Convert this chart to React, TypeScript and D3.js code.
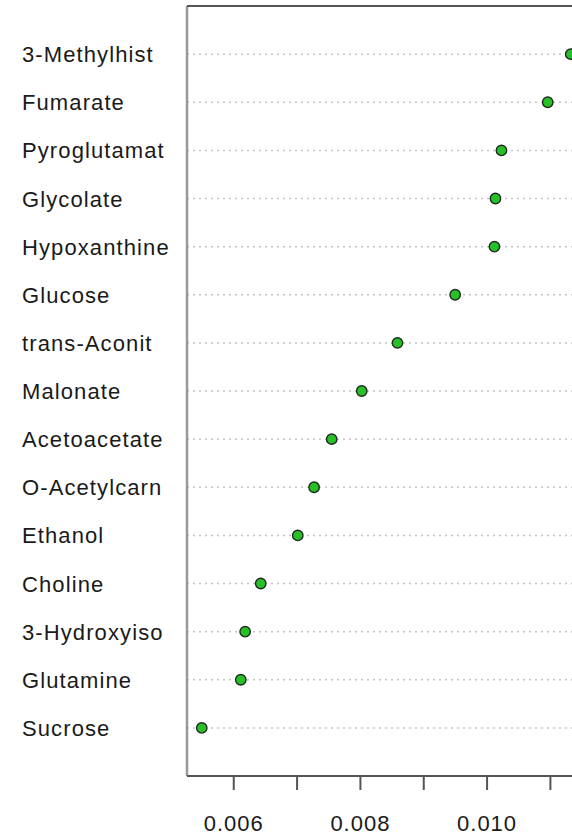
import React from "react";
import * as d3 from "d3";

// Feature names, listed top to bottom
const features = [
  "3-Methylhist",
  "Fumarate",
  "Pyroglutamat",
  "Glycolate",
  "Hypoxanthine",
  "Glucose",
  "trans-Aconit",
  "Malonate",
  "Acetoacetate",
  "O-Acetylcarn",
  "Ethanol",
  "Choline",
  "3-Hydroxyiso",
  "Glutamine",
  "Sucrose",
];

// Importance scores, same order as features
const scores = [
  0.011321, 0.010958, 0.010227, 0.010132, 0.010116, 0.009496, 0.008585,
  0.008021, 0.007547, 0.007269, 0.007011, 0.006426, 0.00618, 0.006111,
  0.005495,
];

const tickValues = [0.006, 0.007, 0.008, 0.009, 0.01, 0.011];
const tickLabels = ["0.006", "", "0.008", "", "0.010", ""];

const W = 572;
const H = 837;

export default function App() {
  const n = features.length;
  const [lo, hi] = d3.extent(scores) as [number, number];
  const pad = (hi - lo) * 0.04;

  const x = d3.scaleLinear().domain([lo - pad, hi + pad]).range([187, 585.5]);
  const y = d3.scaleLinear().domain([0, n + 1]).range([776, 6]);

  const left = x.range()[0];
  const right = x.range()[1];
  const top = y.range()[1];
  const bottom = y.range()[0];

  const font = "'Liberation Sans', Arial, Helvetica, sans-serif";

  return (
    <svg
      width={W}
      height={H}
      style={{ position: "absolute", left: 0, top: 0, background: "#fff" }}
    >
      {/* guide lines */}
      {features.map((f, i) => {
        const yy = y(n - i);
        return (
          <line
            key={"g" + f}
            x1={left}
            x2={right}
            y1={yy}
            y2={yy}
            stroke="#c4c4c4"
            strokeWidth={1.5}
            strokeDasharray="2 4"
          />
        );
      })}

      {/* row labels */}
      {features.map((f, i) => (
        <text
          key={"l" + f}
          x={22}
          y={y(n - i) + 8}
          fontFamily={font}
          fontSize={22}
          letterSpacing={1.1}
          fill="#1a1a1a"
        >
          {f}
        </text>
      ))}

      {/* frame */}
      <line x1={left} x2={left} y1={top} y2={bottom} stroke="#999" strokeWidth={2.5} />
      <line x1={left} x2={right} y1={top} y2={top} stroke="#555" strokeWidth={2} />
      <line x1={left} x2={right} y1={bottom} y2={bottom} stroke="#555" strokeWidth={2} />
      <line x1={right} x2={right} y1={top} y2={bottom} stroke="#555" strokeWidth={2} />

      {/* x axis ticks */}
      {tickValues.map((t, i) => (
        <g key={"t" + t}>
          <line
            x1={x(t)}
            x2={x(t)}
            y1={bottom}
            y2={bottom + 14}
            stroke="#555"
            strokeWidth={2}
          />
          {tickLabels[i] && (
            <text
              x={x(t)}
              y={831}
              textAnchor="middle"
              fontFamily={font}
              fontSize={22}
              letterSpacing={1}
              fill="#1a1a1a"
            >
              {tickLabels[i]}
            </text>
          )}
        </g>
      ))}

      {/* points */}
      {scores.map((v, i) => (
        <circle
          key={"p" + features[i]}
          cx={x(v)}
          cy={y(n - i)}
          r={5.2}
          fill="#27c027"
          stroke="#1f2a1f"
          strokeWidth={1.4}
        />
      ))}
    </svg>
  );
}
